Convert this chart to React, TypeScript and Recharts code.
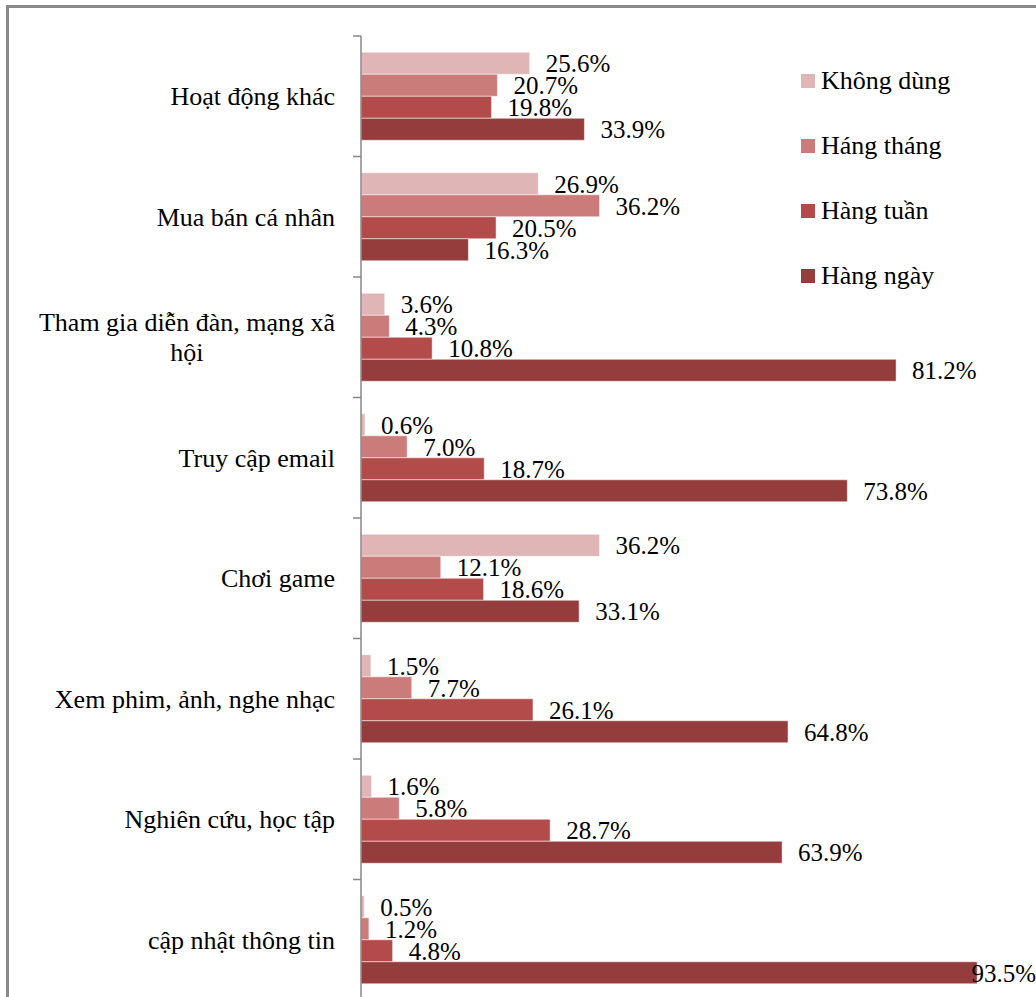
import React from "react";
import { BarChart, Bar, XAxis, YAxis, Legend, LabelList } from "recharts";

// categories top to bottom
const categories = [
  "Hoạt động khác",
  "Mua bán cá nhân",
  "Tham gia diễn đàn, mạng xã hội",
  "Truy cập email",
  "Chơi game",
  "Xem phim, ảnh, nghe nhạc",
  "Nghiên cứu, học tập",
  "cập nhật thông tin",
];

const khongDung = [25.6, 26.9, 3.6, 0.6, 36.2, 1.5, 1.6, 0.5];
const hangThang = [20.7, 36.2, 4.3, 7.0, 12.1, 7.7, 5.8, 1.2];
const hangTuan = [19.8, 20.5, 10.8, 18.7, 18.6, 26.1, 28.7, 4.8];
const hangNgay = [33.9, 16.3, 81.2, 73.8, 33.1, 64.8, 63.9, 93.5];

const seriesNames = ["Không dùng", "Háng tháng", "Hàng tuần", "Hàng ngày"];
const seriesColors = ["#dfb5b5", "#cb7b7a", "#b34b4a", "#953c3c"];

const data = categories.map((name, i) => ({
  name,
  khongDung: khongDung[i],
  hangThang: hangThang[i],
  hangTuan: hangTuan[i],
  hangNgay: hangNgay[i],
}));
const keys = ["khongDung", "hangThang", "hangTuan", "hangNgay"];

const FONT = "'Liberation Serif', 'Times New Roman', serif";
const AXIS_GRAY = "#878787";
const CHART_W = 1040;
const CHART_H = 1002;
const LABEL_LIMIT = 1027; // right edge of the visible area, chart coords

let ctx: CanvasRenderingContext2D | null = null;
function measure(text: string, size: number) {
  if (!ctx) ctx = document.createElement("canvas").getContext("2d");
  if (!ctx) return text.length * size * 0.45;
  ctx.font = `${size}px 'Liberation Serif'`;
  return ctx.measureText(text).width;
}

function wrap(text: string, size: number, maxW: number) {
  const words = text.split(" ");
  const lines: string[] = [];
  let cur = "";
  for (const w of words) {
    const next = cur ? cur + " " + w : w;
    if (cur && measure(next, size) > maxW) {
      lines.push(cur);
      cur = w;
    } else cur = next;
  }
  if (cur) lines.push(cur);
  return lines;
}

function CategoryTick(props: any) {
  const { x, y, payload, index } = props;
  const half = payload.offset ?? 60;
  const lines = wrap(payload.value, 26, 310);
  const widest = Math.max(...lines.map((l) => measure(l, 26)));
  const right = x - 26;
  const multi = lines.length > 1;
  return (
    <g>
      <line x1={x - 8} x2={x} y1={y - half} y2={y - half} stroke={AXIS_GRAY} strokeWidth={1.5} />
      {index === categories.length - 1 && (
        <line x1={x - 8} x2={x} y1={y + half} y2={y + half} stroke={AXIS_GRAY} strokeWidth={1.5} />
      )}
      {lines.map((l, i) => (
        <text
          key={i}
          x={multi ? right - widest / 2 : right}
          y={y + 9 + (i - (lines.length - 1) / 2) * 30}
          textAnchor={multi ? "middle" : "end"}
          fontFamily={FONT}
          fontSize={26}
          fill="#000"
        >
          {l}
        </text>
      ))}
    </g>
  );
}

function ValueLabel(props: any) {
  const { x, y, width, height, value } = props;
  const text = `${Number(value).toFixed(1)}%`;
  const w = measure(text, 25);
  let lx = x + width + 16;
  let anchor: "start" | "end" = "start";
  if (lx + w > LABEL_LIMIT) {
    lx = LABEL_LIMIT;
    anchor = "end";
  }
  return (
    <text x={lx} y={y + height / 2 + 9} textAnchor={anchor} fontFamily={FONT} fontSize={25} fill="#000">
      {text}
    </text>
  );
}

function LegendBox() {
  return (
    <div style={{ fontFamily: FONT }}>
      {seriesNames.map((n, i) => (
        <div key={n} style={{ display: "flex", alignItems: "center", height: 65 }}>
          <span
            style={{ width: 14, height: 14, background: seriesColors[i], marginRight: 6, display: "inline-block" }}
          />
          <span style={{ fontSize: 26, lineHeight: 1, color: "#000" }}>{n}</span>
        </div>
      ))}
    </div>
  );
}

export default function App() {
  return (
    <div style={{ position: "fixed", left: 0, top: 0, width: 1036, height: 997, overflow: "hidden", background: "#fff" }}>
      <div
        style={{
          position: "absolute",
          left: 6,
          top: 5,
          width: 1100,
          height: 1100,
          border: "3px solid #8a8a8a",
          boxSizing: "border-box",
        }}
      />
      <div style={{ position: "absolute", left: 9, top: 8 }}>
        <BarChart
          width={CHART_W}
          height={CHART_H}
          data={data}
          layout="vertical"
          margin={{ top: 28, right: 29, left: 0, bottom: 10 }}
          barCategoryGap="13.5%"
          barGap={0}
        >
          <XAxis type="number" domain={[0, 100]} hide />
          <YAxis
            type="category"
            dataKey="name"
            width={352}
            interval={0}
            tickLine={false}
            tickSize={0}
            tickMargin={0}
            axisLine={{ stroke: AXIS_GRAY, strokeWidth: 1.5 }}
            tick={<CategoryTick />}
          />
          <Legend
            layout="vertical"
            align="center"
            verticalAlign="middle"
            content={<LegendBox />}
            wrapperStyle={{ left: 792, top: 40, width: 240 }}
          />
          {keys.map((k, i) => (
            <Bar
              key={k}
              dataKey={k}
              name={seriesNames[i]}
              fill={seriesColors[i]}
              stroke="#ffffff"
              strokeOpacity={0.5}
              strokeWidth={1}
              isAnimationActive={false}
            >
              <LabelList dataKey={k} content={<ValueLabel />} />
            </Bar>
          ))}
        </BarChart>
      </div>
    </div>
  );
}
